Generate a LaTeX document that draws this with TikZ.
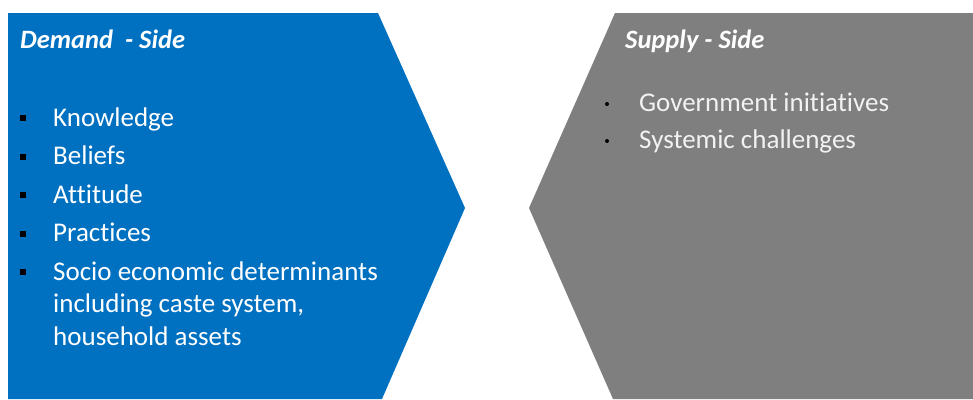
\documentclass[tikz,border=0pt]{standalone}
\usepackage{fontspec}
\setmainfont{Carlito}[Ligatures=NoCommon]
\begin{document}
\begin{tikzpicture}[x=1pt,y=-1pt,
  heading/.style={anchor=base west,inner sep=0pt,font=\fontsize{26.5}{30}\selectfont\bfseries\itshape,text=white},
  demitem/.style={anchor=base west,inner sep=0pt,font=\fontsize{27}{32.5}\selectfont,text=white},
  supitem/.style={anchor=base west,inner sep=0pt,font=\fontsize{27}{32}\selectfont,text=supplytext},
  sqbullet/.style={fill=black,minimum size=6pt,inner sep=0pt},
  dotbullet/.style={circle,fill=black,minimum size=4pt,inner sep=0pt}]
\definecolor{demandblue}{HTML}{0070C0}
\definecolor{supplygrey}{HTML}{7F7F7F}
\definecolor{supplytext}{HTML}{F2F2F2}
\useasboundingbox (0,0) rectangle (973,399);
% demand side chevron
\fill[demandblue] (8,13) -- (378,13) -- (465,208) -- (382,399) -- (8,399) -- cycle;
% supply side chevron
\fill[supplygrey] (615,13) -- (973,13) -- (973,399) -- (613,399) -- (529,208) -- cycle;

\node[heading] (dh) at (20,48) {Demand\ \ - Side};
\node[demitem] (d1) at (53,126) {Knowledge};
\node[demitem] (d2) at (53,164.5) {Beliefs};
\node[demitem] (d3) at (53,203) {Attitude};
\node[demitem] (d4) at (53,241.5) {Practices};
\node[demitem] (d5) at (53,280) {\parbox[t]{380pt}{\raggedright Socio economic determinants\\including caste system,\\household assets}};
\foreach \n/\y in {b1/126,b2/164.5,b3/203,b4/241.5,b5/280}
  \node[sqbullet] (\n) at (23,\y-8) {};

\node[heading] (sh) at (625,48) {Supply - Side};
\node[supitem] (s1) at (639,111) {Government initiatives};
\node[supitem] (s2) at (639,148) {Systemic challenges};
\node[dotbullet] (sb1) at (607,111-7) {};
\node[dotbullet] (sb2) at (607,148-7) {};
\end{tikzpicture}
\end{document}
